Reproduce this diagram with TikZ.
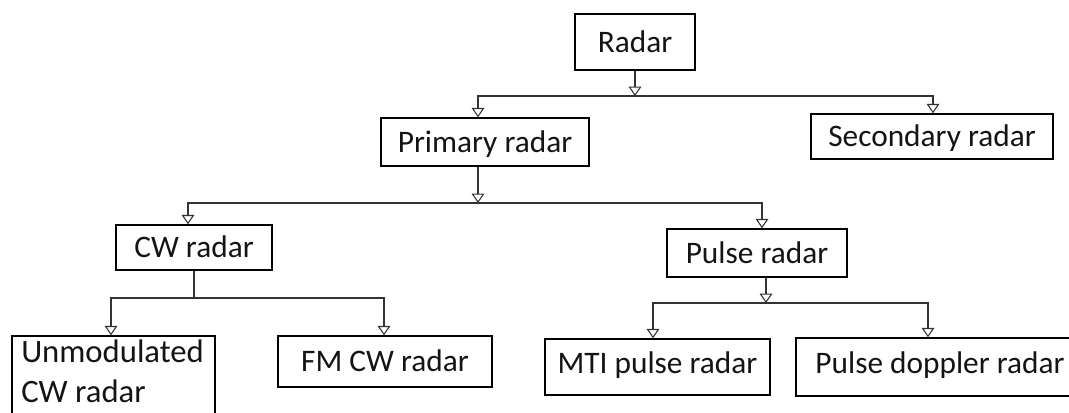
\documentclass[tikz,border=0pt]{standalone}
\usepackage{fontspec}
\setmainfont{Carlito}
\usetikzlibrary{arrows.meta}
\begin{document}
\begin{tikzpicture}[x=0.75pt,y=-0.75pt,
  box/.style={draw=black, line width=1.1pt, inner sep=0pt, text=black!92,
    font=\fontsize{23.5}{30}\selectfont, text height=15pt, text depth=0pt},
  txt/.style={inner sep=0pt, text=black!92, font=\fontsize{24.5}{30}\selectfont},
  conn/.style={draw=black!80, line width=1.1pt},
  arr/.style={conn, -{Triangle[open, length=7pt, width=9.5pt, line width=0.8pt]}},
]
\useasboundingbox (0,0) rectangle (1069,412);
\begin{scope}
\clip (0,0) rectangle (1069,412);
% boxes
\node[box, minimum width=90pt, minimum height=42pt] (radar) at (635,42) {Radar};
\node[box, minimum width=156pt, minimum height=36pt] (primary) at (485,142) {Primary radar};
\node[box, minimum width=181.5pt, minimum height=33.75pt] (secondary) at (932,136.5) {Secondary radar};
\node[box, minimum width=117pt, minimum height=33.75pt] (cw) at (194,247.5) {CW radar};
\node[box, minimum width=135pt, minimum height=36pt] (pulse) at (757,253) {Pulse radar};
\node[box, minimum width=152.25pt, minimum height=63pt] (unmod) at (113.5,378) {};
\node[txt, anchor=north west, align=left] (unmodtext) at (21,340) {Unmodulated\\CW radar};
\node[box, minimum width=160.5pt, minimum height=38.25pt] (fmcw) at (385,361.5) {FM CW radar};
\node[box, minimum width=168.75pt, minimum height=42pt, text depth=5pt] (mti) at (657.5,367) {MTI pulse radar};
\node[box, minimum width=216pt, minimum height=43.5pt, text depth=5pt] (pd) at (940,367) {Pulse doppler radar};
% junction coordinates
\coordinate (b1l) at (478,96);
\coordinate (b1r) at (933,96);
\coordinate (b2l) at (188,203);
\coordinate (b2m) at (478,203);
\coordinate (b2r) at (762,203);
\coordinate (b3l) at (111,298);
\coordinate (b3r) at (384,298);
\coordinate (b4l) at (653,303);
\coordinate (b4m) at (766,303);
\coordinate (b4r) at (928,303);
% connectors
\draw[arr] (radar) -- (radar |- b1l);
\draw[arr] (b1r) -- (b1l) -- (b1l |- primary.north);
\draw[arr] (b1l) -- (b1r) -- (b1r |- secondary.north);
\draw[arr] (b2m |- primary.south) -- (b2m);
\draw[arr] (b2r) -- (b2l) -- (b2l |- cw.north);
\draw[arr] (b2l) -- (b2r) -- (b2r |- pulse.north);
\draw[conn] (cw.south) -- (cw.south |- b3l);
\draw[arr] (b3r) -- (b3l) -- (b3l |- unmod.north);
\draw[arr] (b3l) -- (b3r) -- (b3r |- fmcw.north);
\draw[arr] (b4m |- pulse.south) -- (b4m);
\draw[arr] (b4r) -- (b4l) -- (b4l |- mti.north);
\draw[arr] (b4l) -- (b4r) -- (b4r |- pd.north);
\end{scope}
\end{tikzpicture}
\end{document}
